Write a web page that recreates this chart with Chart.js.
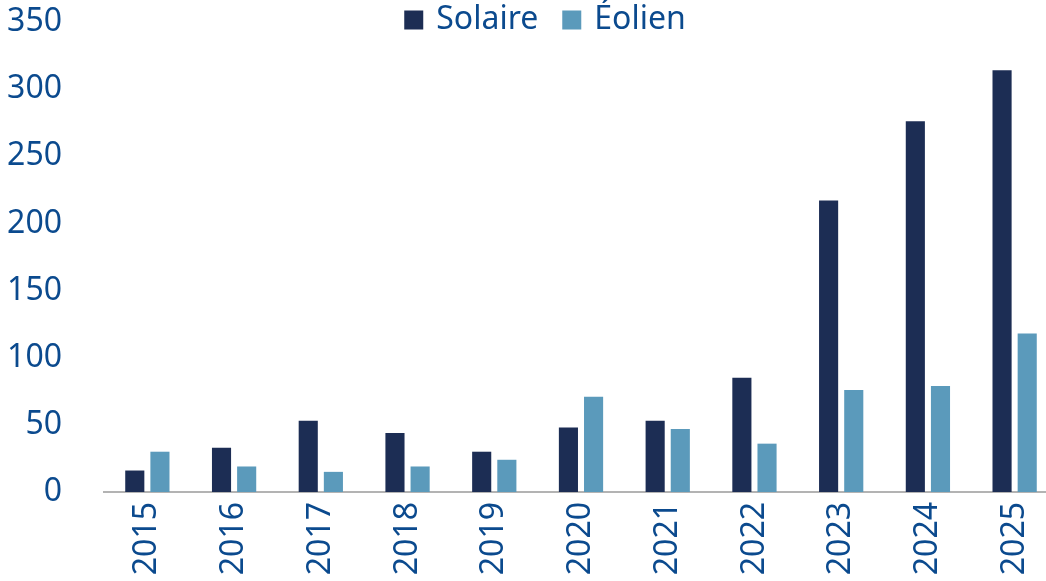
<!DOCTYPE html>
<html lang="fr">
<head>
<meta charset="UTF-8">
<title>Solaire et Éolien</title>
<script src="https://cdn.jsdelivr.net/npm/chart.js"></script>
<style>
  html, body { margin: 0; padding: 0; background: #fff; overflow: hidden; }
  .wrap { position: relative; width: 1060px; height: 581px; }
</style>
</head>
<body>
<div class="wrap"><canvas id="chart"></canvas></div>
<script>
// Data
const years = ['2015', '2016', '2017', '2018', '2019', '2020', '2021', '2022', '2023', '2024', '2025'];
const solaire = [16, 33, 53, 44, 30, 48, 53, 85, 217, 276, 314];
const eolien = [30, 19, 15, 19, 24, 71, 47, 36, 76, 79, 118];
const yTicks = [0, 50, 100, 150, 200, 250, 300, 350];

const TEXT = '#0b4a8e';
const FONT = '"Noto Sans", "Open Sans", sans-serif';

// Legend drawn above the plot so it does not push the chart area down
const topLegend = {
  id: 'topLegend',
  afterDraw(chart) {
    const ctx = chart.ctx;
    const box = 19, gapText = 13, gapItem = 24;
    ctx.save();
    ctx.font = '32px ' + FONT;
    ctx.textBaseline = 'middle';
    const items = chart.data.datasets.map(ds => ({
      label: ds.label, color: ds.backgroundColor, w: ctx.measureText(ds.label).width
    }));
    const total = items.reduce((s, it) => s + box + gapText + it.w, 0) + gapItem * (items.length - 1);
    let x = 545 - total / 2;
    const y = 20;
    items.forEach(it => {
      ctx.fillStyle = it.color;
      ctx.fillRect(x, y - box / 2, box, box);
      x += box + gapText;
      ctx.fillStyle = TEXT;
      ctx.fillText(it.label, x, y);
      x += it.w + gapItem;
    });
    ctx.restore();
  }
};

// keep the scales from adding their own edge padding
function noPad(scale) {
  scale.paddingTop = 0;
  scale.paddingBottom = 0;
  scale.paddingLeft = 0;
  scale.paddingRight = 0;
}

new Chart(document.getElementById('chart'), {
  type: 'bar',
  data: {
    labels: years,
    datasets: [
      { label: 'Solaire', data: solaire, backgroundColor: '#1c2d54' },
      { label: 'Éolien', data: eolien, backgroundColor: '#5b9abb' }
    ]
  },
  options: {
    responsive: true,
    maintainAspectRatio: false,
    animation: false,
    layout: { padding: { top: 22, left: 7, right: 2, bottom: 0 } },
    datasets: {
      bar: { categoryPercentage: 0.58, barPercentage: 0.76 }
    },
    plugins: {
      legend: { display: false },
      tooltip: { enabled: false }
    },
    scales: {
      x: {
        grid: { display: false, drawTicks: false },
        border: { display: true, color: '#b3b3b3', width: 2 },
        ticks: {
          color: TEXT,
          font: { family: FONT, size: 32 },
          minRotation: 90,
          maxRotation: 90,
          padding: 10
        },
        afterFit: scale => { scale.height = 89; noPad(scale); }
      },
      y: {
        min: 0,
        max: 350,
        afterBuildTicks: axis => { axis.ticks = yTicks.map(v => ({ value: v })); },
        grid: { display: false, drawTicks: false },
        border: { display: false },
        ticks: {
          color: TEXT,
          font: { family: FONT, size: 32 },
          padding: 42
        },
        afterFit: scale => { scale.width = 97; noPad(scale); }
      }
    }
  },
  plugins: [topLegend]
});
</script>
</body>
</html>
